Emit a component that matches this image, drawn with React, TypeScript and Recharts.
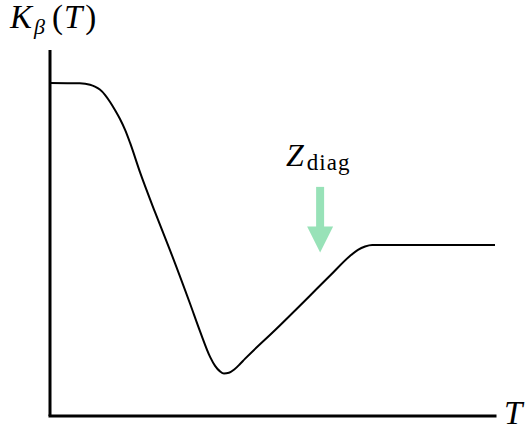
import React from 'react';
import { LineChart, Line, XAxis, YAxis, ReferenceLine, ReferenceDot } from 'recharts';

// Temperature (normalized 0..100) and K_beta(T) (normalized 0..100)
const temps = [0, 6.7, 9.0, 10.1, 11.2, 12.4, 13.5, 14.6, 15.7, 16.9, 18.0, 20.2, 23.6, 27.0, 31.5, 33.7, 36.0, 37.1, 38.2, 39.1, 40.2, 41.4, 42.7, 43.8, 50.6, 62.9, 67.4, 69.2, 70.8, 72.4, 78.7, 100];
const kValues = [91.0, 90.9, 90.5, 90.0, 89.2, 87.7, 85.8, 83.6, 81.2, 78.1, 74.6, 66.7, 55.7, 45.2, 30.6, 23.2, 16.1, 13.7, 12.2, 11.6, 11.8, 12.7, 14.2, 15.6, 23.5, 38.3, 43.7, 45.4, 46.3, 46.7, 46.7, 46.7];

// Z_diag arrow position
const arrowT = 60.7;
const arrowTop = 62.6;
const arrowShaftEnd = 51.6;
const arrowTip = 44.7;

const data = temps.map((t, i) => ({ t, k: kValues[i] }));

const GREEN = '#98e2b8';
const FONT = '"Liberation Serif", "DejaVu Serif", serif';

const ArrowHead = (props: any) => {
  const { cx, cy } = props;
  if (cx == null || cy == null) return null;
  return <polygon points={`${cx},${cy} ${cx - 13},${cy - 26} ${cx + 13},${cy - 26}`} fill={GREEN} />;
};

export default function App() {
  return (
    <div style={{ position: 'absolute', left: 0, top: 0, width: 531, height: 433, background: '#fff' }}>
      <LineChart width={531} height={433} data={data} margin={{ top: 50, right: 36, bottom: 17, left: 50 }}>
        <XAxis dataKey="t" type="number" domain={[0, 100]} hide />
        <YAxis type="number" domain={[0, 100]} hide />
        <ReferenceLine
          segment={[{ x: 0, y: 0 }, { x: 100, y: 0 }]}
          stroke="#000"
          strokeWidth={3}
          strokeLinecap="square"
          ifOverflow="visible"
        />
        <ReferenceLine
          segment={[{ x: 0, y: 0 }, { x: 0, y: 100 }]}
          stroke="#000"
          strokeWidth={3}
          ifOverflow="visible"
        />
        <Line
          type="monotone"
          dataKey="k"
          stroke="#000"
          strokeWidth={2}
          dot={false}
          isAnimationActive={false}
        />
        <ReferenceLine
          segment={[{ x: arrowT, y: arrowTop }, { x: arrowT, y: arrowShaftEnd }]}
          stroke={GREEN}
          strokeWidth={8}
          ifOverflow="visible"
        />
        <ReferenceDot x={arrowT} y={arrowTip} shape={ArrowHead} ifOverflow="visible" />
      </LineChart>
      <svg width={531} height={433} style={{ position: 'absolute', left: 0, top: 0, pointerEvents: 'none' }}>
        <text x={10} y={28} fontFamily={FONT} fontSize={33} fill="#000">
          <tspan fontStyle="italic">K</tspan>
          <tspan fontStyle="italic" fontSize={22} dx={2} dy={6}>β</tspan>
          <tspan dx={7} dy={-6}>(</tspan>
          <tspan fontStyle="italic" dx={1}>T</tspan>
          <tspan dx={3}>)</tspan>
        </text>
        <text x={286} y={166} fontFamily={FONT} fontSize={32} fill="#000">
          <tspan fontStyle="italic">Z</tspan>
          <tspan fontSize={23} dx={3} dy={4} letterSpacing={1}>diag</tspan>
        </text>
        <text x={504} y={424} fontFamily={FONT} fontSize={33} fontStyle="italic" fill="#000">T</text>
      </svg>
    </div>
  );
}
